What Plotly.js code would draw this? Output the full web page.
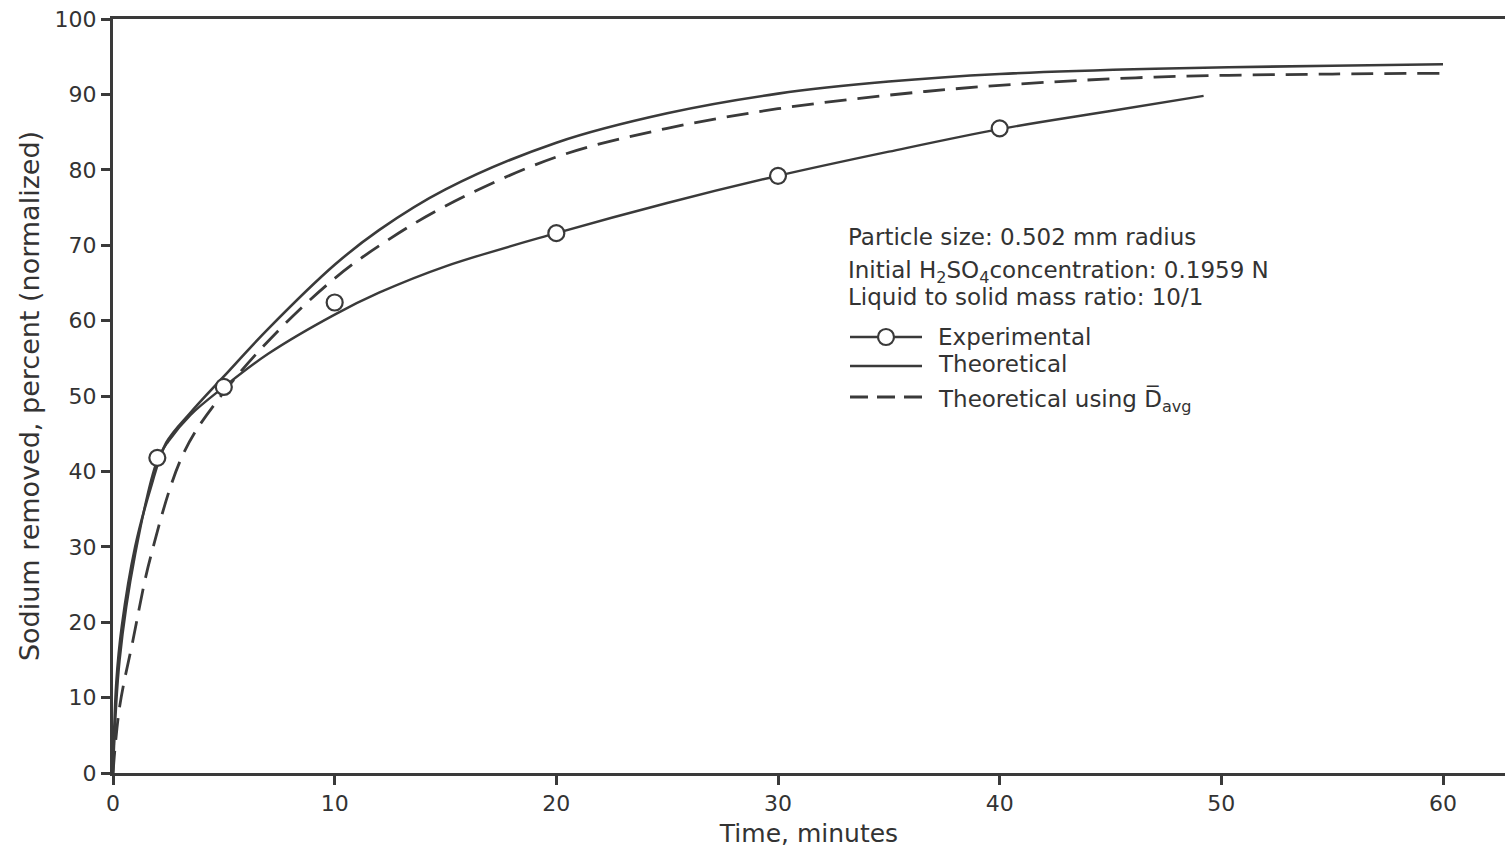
<!DOCTYPE html>
<html>
<head>
<meta charset="utf-8">
<script src="https://cdn.plot.ly/plotly-3.0.1.min.js"></script>
<style>html,body{margin:0;padding:0;background:#fff;}#chart{width:1505px;height:860px;}</style>
</head>
<body>
<div id="chart"></div>
<script>
// Experimental data points (circles)
const expTimes = [2, 5, 10, 20, 30, 40];
const expValues = [41.8, 51.2, 62.4, 71.6, 79.2, 85.5];
// Experimental fitted curve
const expCurveTimes = [0, 0.3, 1, 2, 2.5, 3.5, 5, 7, 10, 12, 15, 20, 25, 30, 35, 40, 45, 49.2];
const expCurveValues = [0, 15, 29, 41.5, 44, 47.5, 51.2, 55.6, 60.8, 63.7, 67.2, 71.6, 75.6, 79.2, 82.4, 85.4, 87.8, 89.8];
// Theoretical curve
const theoTimes = [0, 0.15, 0.4, 1, 1.7, 2.4, 3.5, 5, 7, 10, 12, 15, 20, 25, 30, 35, 40, 47, 55, 60];
const theoValues = [0, 12, 19.5, 30, 37.8, 43.8, 47.8, 52.6, 58.9, 67.4, 72, 77.4, 83.6, 87.5, 90.1, 91.7, 92.7, 93.4, 93.8, 94.0];
// Theoretical using D-avg curve
const davgTimes = [0, 0.3, 0.9, 1.7, 3.2, 5, 7.5, 10, 12, 15, 20, 25, 30, 35, 40, 47, 55, 60];
const davgValues = [0, 8.8, 17.6, 28.7, 42.5, 50.5, 58.8, 65.6, 69.9, 75.2, 81.7, 85.5, 88.1, 89.9, 91.2, 92.3, 92.7, 92.8];

const xTicks = [0, 10, 20, 30, 40, 50, 60];
const yTicks = [0, 10, 20, 30, 40, 50, 60, 70, 80, 90, 100];

const ink = '#3a3a3a';
const FONT = 'DejaVu Sans, Liberation Sans, sans-serif';

const traces = [
  {x: theoTimes, y: theoValues, mode: 'lines', line: {color: ink, width: 2.6, shape: 'spline', smoothing: 1}, showlegend: false, name: 'Theoretical'},
  {x: davgTimes, y: davgValues, mode: 'lines', line: {color: ink, width: 2.8, dash: '22px,11px', shape: 'spline', smoothing: 1}, showlegend: false, name: 'Theoretical using D avg'},
  {x: expCurveTimes, y: expCurveValues, mode: 'lines', line: {color: ink, width: 2.4, shape: 'spline', smoothing: 1}, showlegend: false, name: 'Experimental curve'},
  {x: expTimes, y: expValues, mode: 'markers', marker: {symbol: 'circle', size: 16, color: '#fff', line: {color: ink, width: 2.2}}, showlegend: false, name: 'Experimental'}
];

// legend/annotation placement helpers (pixel -> paper)
const L = 113, R = 1505, T = 19, B = 773;
const px = v => (v - L) / (R - L);
const py = v => (B - v) / (B - T);

const textX = 846;
const annFont = {family: FONT, size: 23, color: '#333'};
const annLines = [
  {t: 'Particle size: 0.502 mm radius', y: 237, x: textX},
  {t: 'Initial H<sub>2</sub>SO<sub>4</sub>concentration: 0.1959 N', y: 272, x: textX},
  {t: 'Liquid to solid mass ratio: 10/1', y: 297, x: textX},
  {t: 'Experimental', y: 337, x: 936},
  {t: 'Theoretical', y: 364, x: 936},
  {t: 'Theoretical using D\u0305<sub>avg</sub>', y: 400, x: 936}
];
const annotations = annLines.map(a => ({
  xref: 'paper', yref: 'paper', x: px(a.x), y: py(a.y), xanchor: 'left', yanchor: 'middle',
  text: a.t, showarrow: false, font: annFont, align: 'left'
}));

const shapes = [
  {type: 'line', xref: 'paper', yref: 'paper', x0: px(850), x1: px(922), y0: py(337), y1: py(337), line: {color: ink, width: 2.6}},
  {type: 'circle', xref: 'paper', yref: 'paper', xsizemode: 'pixel', ysizemode: 'pixel', xanchor: px(886), yanchor: py(337), x0: -8, x1: 8, y0: -8, y1: 8, fillcolor: '#fff', line: {color: ink, width: 2.2}},
  {type: 'line', xref: 'paper', yref: 'paper', x0: px(850), x1: px(922), y0: py(366), y1: py(366), line: {color: ink, width: 2.6}},
  {type: 'line', xref: 'paper', yref: 'paper', x0: px(850), x1: px(924), y0: py(397), y1: py(397), line: {color: ink, width: 2.8, dash: '18px,9px'}}
];

const layout = {
  width: 1505, height: 860,
  margin: {l: L, r: 1505 - R, t: T, b: 860 - B},
  paper_bgcolor: '#fff', plot_bgcolor: '#fff',
  font: {family: FONT, color: '#333', size: 22},
  showlegend: false,
  xaxis: {
    range: [0, (R - L) / ((1443 - 113) / 60)],
    tickvals: xTicks, ticktext: xTicks.map(String),
    ticks: 'outside', ticklen: 9, tickwidth: 3, tickcolor: ink,
    showline: true, linewidth: 3, linecolor: ink, mirror: true,
    showgrid: false, zeroline: false,
    tickfont: {family: FONT, size: 22, color: '#333'},
    title: {text: 'Time, minutes', font: {family: FONT, size: 25, color: '#333'}, standoff: 10}
  },
  yaxis: {
    range: [0, 100],
    tickvals: yTicks, ticktext: yTicks.map(String),
    ticks: 'outside', ticklen: 9, tickwidth: 3, tickcolor: ink,
    showline: true, linewidth: 3, linecolor: ink,
    showgrid: false, zeroline: false,
    tickfont: {family: FONT, size: 22, color: '#333'},
    title: {text: 'Sodium removed, percent (normalized)', font: {family: FONT, size: 27, color: '#333'}, standoff: 8}
  },
  annotations: annotations,
  shapes: shapes
};

Plotly.newPlot('chart', traces, layout, {displayModeBar: false, staticPlot: true});
</script>
</body>
</html>
